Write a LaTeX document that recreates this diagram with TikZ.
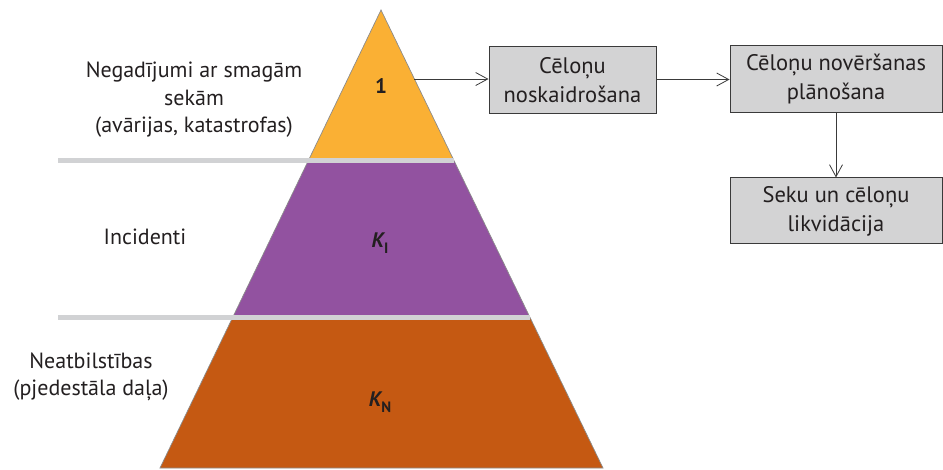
\documentclass[tikz,border=0pt]{standalone}
\usepackage{fontspec}
\setmainfont{PT Sans}
\usetikzlibrary{calc,arrows.meta}
\definecolor{yel}{HTML}{FAB034}
\definecolor{pur}{HTML}{9252A0}
\definecolor{ora}{HTML}{C55912}
\definecolor{bandgray}{HTML}{D1D2D4}
\definecolor{boxfill}{HTML}{D3D3D4}
\definecolor{boxline}{HTML}{3A3A3A}
\definecolor{txt}{HTML}{231F20}
\definecolor{edgegray}{HTML}{8C8C8C}
\begin{document}
\begin{tikzpicture}[x=1pt,y=1pt,
  lbl/.style={font=\fontsize{22}{27.5}\selectfont, text=txt, align=center, inner sep=0pt},
  boxnode/.style={draw=boxline, line width=1pt, fill=boxfill, align=center, text=txt,
    font=\fontsize{22.5}{29}\selectfont, inner sep=0pt},
  conn/.style={draw=boxline, line width=1pt, -{Straight Barb[length=12pt,width=13pt,line width=0.8pt]}},
  band/.style={draw=bandgray, line width=5pt},
  outline/.style={draw=edgegray, line width=0.7pt, line join=miter},
  klabel/.style={text=txt, inner sep=0pt, font=\fontsize{21}{21}\selectfont\bfseries}
]
\useasboundingbox (0,0) rectangle (943,-470);

% pyramid geometry
\coordinate (A) at (381,-10);
\coordinate (BL) at (160,-468);
\coordinate (BR) at (603,-468);
\coordinate (L1) at ($(A)!0.3286!(BL)$);
\coordinate (R1) at ($(A)!0.3286!(BR)$);
\coordinate (L2) at ($(A)!0.6714!(BL)$);
\coordinate (R2) at ($(A)!0.6714!(BR)$);

\fill[yel] (A) -- (L1) -- (R1) -- cycle;
\fill[pur] (L1) -- (R1) -- (R2) -- (L2) -- cycle;
\fill[ora] (L2) -- (R2) -- (BR) -- (BL) -- cycle;
\draw[outline] (A) -- (BL) -- (BR) -- cycle;

\coordinate (g1) at (58,-160.5);
\coordinate (g2) at (58,-317.5);
\draw[band] (g1) -- (g1 -| R1);
\draw[band] (g2) -- (g2 -| R2);

% labels inside pyramid
\node[klabel] (n1) at (381,-86) {1};
\node[klabel] (kI) at (380,-243) {\itshape K\raisebox{-6pt}{\upshape\fontsize{15}{15}\selectfont I}};
\node[klabel] (kN) at (380,-402) {\itshape K\raisebox{-6pt}{\upshape\fontsize{15}{15}\selectfont N}};

% left labels
\node[lbl] (t1) at (194,-100) {Negadījumi ar smagām\\sekām\\(avārijas, katastrofas)};
\node[lbl] (t2) at (145,-237) {Incidenti};
\node[lbl] (t3) at (91,-377) {Neatbilstības\\(pjedestāla daļa)};

% boxes
\node[boxnode, minimum width=167pt, minimum height=67pt] (b1) at (572.5,-80.5) {Cēloņu\\noskaidrošana};
\node[boxnode, minimum width=212pt, minimum height=67pt] (b2) at (836,-79.5) {Cēloņu novēršanas\\plānošana};
\node[boxnode, minimum width=212pt, minimum height=66pt] (b3) at (836,-211) {Seku un cēloņu\\likvidācija};

% connectors
\coordinate (P) at ($(A)!0.1507!(BR)$);
\draw[conn] (P) -- (P -| b1.west);
\draw[conn] (b1.east |- b2.west) -- (b2.west);
\draw[conn] (b2.south) -- (b3.north);
\end{tikzpicture}
\end{document}
